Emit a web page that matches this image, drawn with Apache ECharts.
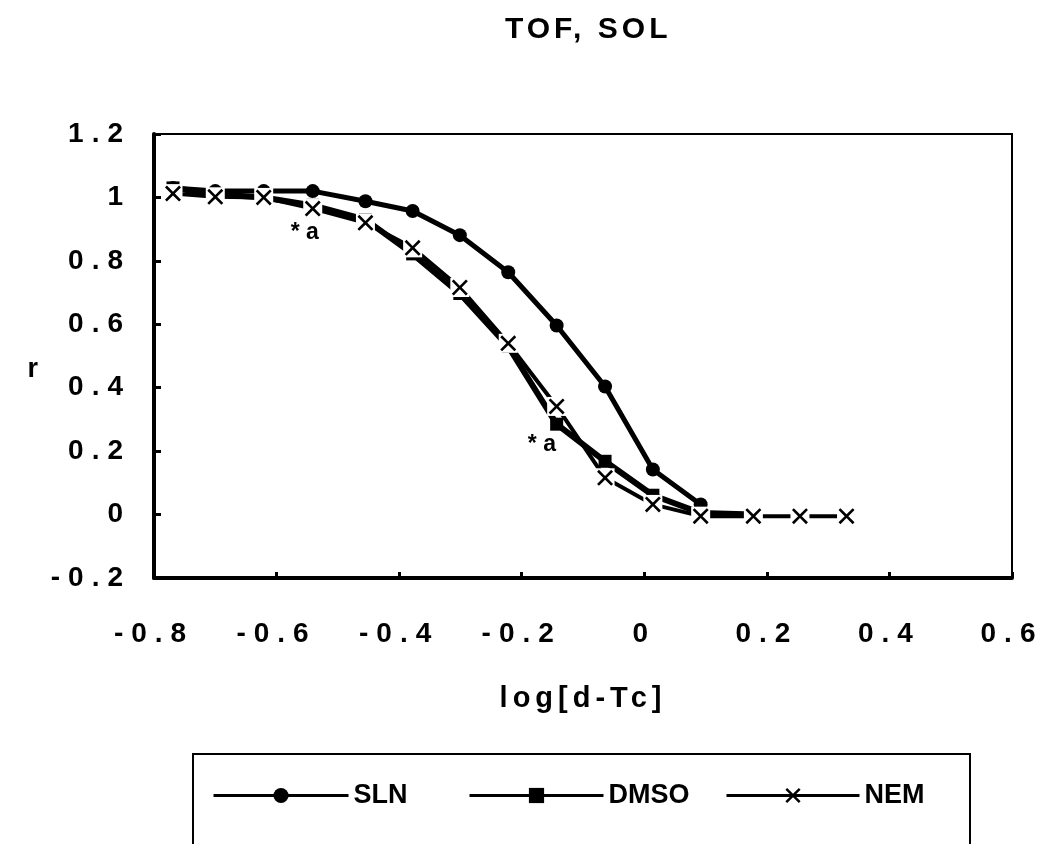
<!DOCTYPE html>
<html><head><meta charset="utf-8">
<script src="https://cdn.jsdelivr.net/npm/echarts@6/dist/echarts.min.js"></script>
<style>html,body{margin:0;padding:0;background:#fff}#c{width:1042px;height:844px}</style>
</head><body><div id="c"></div>
<script>
// ---- data ----
const xValues    = [-0.769, -0.700, -0.621, -0.541, -0.455, -0.378, -0.301, -0.222, -0.143, -0.064, 0.014, 0.092, 0.178, 0.254, 0.330];
const slnValues  = [1.03, 1.02, 1.02, 1.02, 0.988, 0.957, 0.881, 0.764, 0.596, 0.404, 0.142, 0.032, null, null, null];
const dmsoValues = [1.03, 1.01, 1.00, 0.975, 0.93, 0.822, 0.697, 0.53, 0.285, 0.168, 0.061, 0.005, 0.0, null, null];
const nemValues  = [1.012, 1.002, 1.000, 0.965, 0.920, 0.841, 0.716, 0.540, 0.341, 0.116, 0.032, -0.005, -0.005, -0.005, -0.005];
const seriesNames = ['SLN', 'DMSO', 'NEM'];
const xTickLabels = ['-0.8', '-0.6', '-0.4', '-0.2', '0', '0.2', '0.4', '0.6'];
const yTickLabels = ['-0.2', '0', '0.2', '0.4', '0.6', '0.8', '1', '1.2'];
const annoX = [-0.554, -0.167];
const annoY = [0.888, 0.222];
const annoText = ['* a', '* a'];
const titleText = 'TOF, SOL';
const xName = 'log[d-Tc]';
const yName = 'r';

// ---- build ----
const pairs = vals => xValues.map((x, i) => [x, vals[i]]).filter(p => p[1] !== null);
const X_MIN = -0.8, X_MAX = 0.6, Y_MIN = -0.2, Y_MAX = 1.2, STEP = 0.2;
const FONT = 'Liberation Sans';
// font size -> letter spacing (px), mimicking the wide spacing of the original lettering
const SPACING = {'28px': 8, '29px': 5, '30px': 4};
(function () {
  const proto = CanvasRenderingContext2D.prototype;
  if (!('letterSpacing' in proto)) return;
  const orig = proto.fillText;
  proto.fillText = function () {
    const m = /(\d+)px/.exec(this.font || '');
    const sp = m ? SPACING[m[1] + 'px'] : undefined;
    if (sp === undefined) return orig.apply(this, arguments);
    const prev = this.letterSpacing;
    this.letterSpacing = sp + 'px';
    const r = orig.apply(this, arguments);
    this.letterSpacing = prev;
    return r;
  };
})();
const xSym = 'path://M0,1.4L1.4,0L6,4.6L10.6,0L12,1.4L7.4,6L12,10.6L10.6,12L6,7.4L1.4,12L0,10.6L4.6,6Z';

const chart = echarts.init(document.getElementById('c'), null, {renderer: 'canvas'});
const legendBase = {
  top: 782, itemHeight: 19, itemGap: 0, padding: 0,
  textStyle: {fontFamily: FONT, fontWeight: 'bold', fontSize: 27, color: '#000', padding: [18, 0, 0, 0]},
  lineStyle: {width: 3, color: '#000', opacity: 1}
};
chart.setOption({
  animation: false,
  backgroundColor: '#fff',
  title: {
    text: titleText, left: 500, top: 10,
    textStyle: {fontFamily: FONT, fontWeight: 'bold', fontSize: 30, color: '#000'}
  },
  grid: {left: 154, right: 30, top: 134, bottom: 266, show: true, borderColor: '#000', borderWidth: 2, backgroundColor: 'rgba(0,0,0,0)'},
  xAxis: {
    type: 'value', min: X_MIN, max: X_MAX, interval: STEP, z: 10,
    axisLine: {show: true, onZero: false, lineStyle: {color: '#000', width: 4}},
    axisTick: {show: true, inside: true, length: 6, lineStyle: {color: '#000', width: 3}},
    splitLine: {show: false},
    axisLabel: {
      margin: 42, color: '#000', fontFamily: FONT, fontWeight: 'bold', fontSize: 28,
      formatter: v => xTickLabels[Math.round((v - X_MIN) / STEP)]
    },
    name: xName, nameLocation: 'middle', nameGap: 106,
    nameTextStyle: {color: '#000', fontFamily: FONT, fontWeight: 'bold', fontSize: 29}
  },
  yAxis: {
    type: 'value', min: Y_MIN, max: Y_MAX, interval: STEP, z: 10,
    axisLine: {show: true, onZero: false, lineStyle: {color: '#000', width: 4}},
    axisTick: {show: true, inside: true, length: 7, lineStyle: {color: '#000', width: 3}},
    splitLine: {show: false},
    axisLabel: {
      margin: 23, color: '#000', fontFamily: FONT, fontWeight: 'bold', fontSize: 28,
      formatter: v => yTickLabels[Math.round((v - Y_MIN) / STEP)]
    },
    name: yName, nameLocation: 'middle', nameGap: 112, nameRotate: 0,
    nameTextStyle: {color: '#000', fontFamily: FONT, fontWeight: 'bold', fontSize: 27, verticalAlign: 'top', lineHeight: 27}
  },
  legend: [
    Object.assign({}, legendBase, {data: [seriesNames[0]], left: 212, itemWidth: 135}),
    Object.assign({}, legendBase, {data: [seriesNames[1]], left: 468, itemWidth: 134}),
    Object.assign({}, legendBase, {data: [seriesNames[2]], left: 725, itemWidth: 133})
  ],
  graphic: [{
    type: 'rect', shape: {x: 193, y: 754, width: 777, height: 160},
    style: {fill: 'none', stroke: '#000', lineWidth: 2}, silent: true
  }],
  series: [
    {
      name: seriesNames[0], type: 'line', data: pairs(slnValues), z: 2,
      symbol: 'circle', symbolSize: 14, showAllSymbol: true,
      lineStyle: {color: '#000', width: 5}, itemStyle: {color: '#000'}
    },
    {
      name: seriesNames[1], type: 'line', data: pairs(dmsoValues), z: 3,
      symbol: 'rect', symbolSize: 13, showAllSymbol: true,
      lineStyle: {color: '#000', width: 6}, itemStyle: {color: '#000'}
    },
    {
      // NEM connecting line, drawn under the white knock-outs
      name: 'NEM-line', type: 'line', data: pairs(nemValues), z: 3,
      symbol: 'none', lineStyle: {color: '#000', width: 4}, silent: true
    },
    {
      // white knock-out behind the NEM crosses (as in the original print)
      name: 'NEM-bg', type: 'line', data: pairs(nemValues), z: 4,
      symbol: 'rect', symbolSize: 19, showAllSymbol: true,
      lineStyle: {width: 0, opacity: 0}, itemStyle: {color: '#fff'}, silent: true
    },
    {
      name: seriesNames[2], type: 'line', data: pairs(nemValues), z: 5,
      symbol: xSym, symbolSize: 16, showAllSymbol: true,
      lineStyle: {color: '#000', width: 0, opacity: 0}, itemStyle: {color: '#000'},
      markPoint: {
        symbol: 'circle', symbolSize: 1, itemStyle: {color: 'rgba(0,0,0,0)'},
        label: {show: true, position: 'inside', color: '#000', fontFamily: FONT, fontWeight: 'bold', fontSize: 23,
          formatter: p => p.name},
        data: annoX.map((x, i) => ({name: annoText[i], coord: [x, annoY[i]]}))
      }
    }
  ]
});
</script></body></html>
